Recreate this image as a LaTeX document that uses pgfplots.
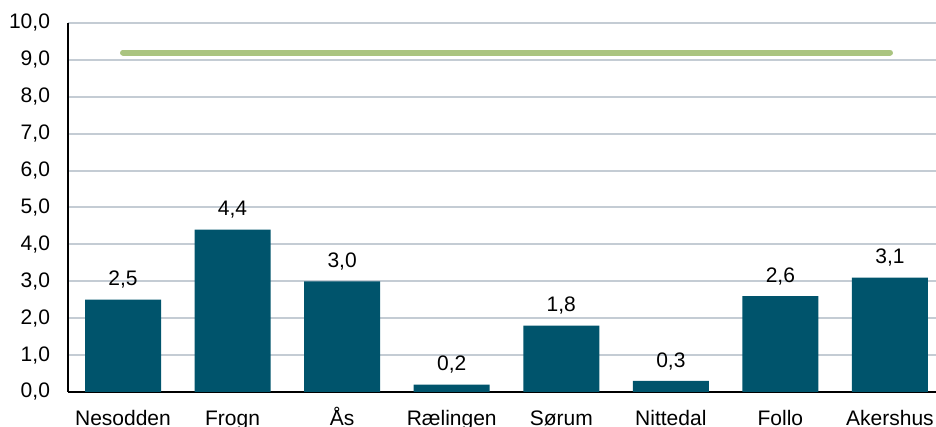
\documentclass[border=0pt]{standalone}
\usepackage{fontspec}
\setmainfont{Liberation Sans}
\usepackage{pgfplots}
\pgfplotsset{compat=1.18}
\definecolor{barcol}{RGB}{0,84,108}
\definecolor{linegreen}{RGB}{170,196,128}
\definecolor{gridcol}{RGB}{196,204,212}
\begin{document}
\begin{tikzpicture}
\path[use as bounding box] (0,0) rectangle (468pt,213.5pt);
\begin{axis}[
  at={(34pt,17.5pt)}, anchor=south west,
  scale only axis, width=434pt, height=184.5pt,
  xmin=-0.502, xmax=7.42, ymin=0, ymax=10,
  axis x line=bottom, axis y line=left,
  axis line style={-, black, line width=0.9pt},
  xtick={0,...,7},
  xticklabels={Nesodden,Frogn,Ås,Rælingen,Sørum,Nittedal,Follo,Akershus},
  ytick={0,1,...,10},
  major tick length=0pt,
  ymajorgrids, grid style={gridcol, line width=1pt},
  /pgf/number format/assume math mode=true,
  yticklabel style={/pgf/number format/fixed, /pgf/number format/fixed zerofill, /pgf/number format/precision=1, /pgf/number format/use comma, xshift=-5.5pt},
  tick label style={font=\fontsize{10.5}{12.6}\selectfont},
  xticklabel style={anchor=base, yshift=-17pt},
  clip=false,
]
\addplot[ybar, bar width=38pt, fill=barcol, draw=none,
  nodes near coords,
  nodes near coords style={font=\fontsize{10.5}{12.6}\selectfont, /pgf/number format/fixed, /pgf/number format/fixed zerofill, /pgf/number format/precision=1, /pgf/number format/use comma, /pgf/number format/assume math mode=true, yshift=2pt}]
  coordinates {(0,2.5) (1,4.4) (2,3.0) (3,0.2) (4,1.8) (5,0.3) (6,2.6) (7,3.1)};
\addplot[linegreen, line width=3pt, line cap=round] coordinates {(0,9.2) (7,9.2)};
\end{axis}
\end{tikzpicture}
\end{document}
